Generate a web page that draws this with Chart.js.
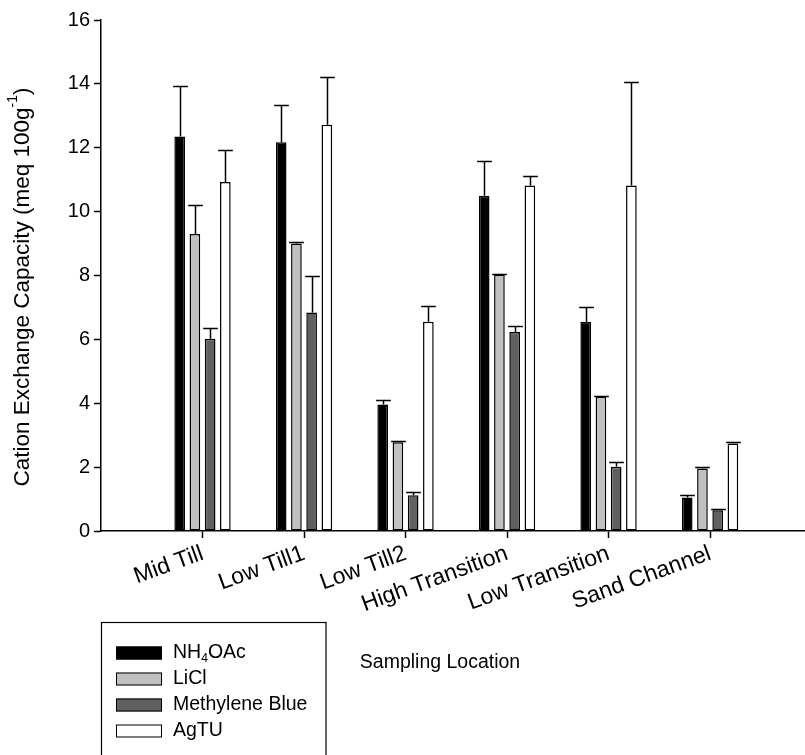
<!DOCTYPE html>
<html>
<head>
<meta charset="utf-8">
<script src="https://cdn.jsdelivr.net/npm/chart.js@4/dist/chart.umd.min.js"></script>
<style>
  html, body { margin: 0; padding: 0; background: #fff; overflow: hidden; }
  #wrap { position: relative; width: 823px; height: 755px; }
</style>
</head>
<body>
<div id="wrap"><canvas id="c" width="823" height="755"></canvas></div>
<script>
// Sampling locations along the transect
const categories = ['Mid Till', 'Low Till1', 'Low Till2', 'High Transition', 'Low Transition', 'Sand Channel'];

// Mean CEC (meq 100g-1) by extraction method, with standard deviation
const nh4oac    = [12.35, 12.17, 3.96, 10.50, 6.55, 1.05];
const nh4oacSd  = [1.58, 1.17, 0.14, 1.07, 0.46, 0.09];
const licl      = [9.30, 9.00, 2.78, 8.03, 4.20, 1.96];
const liclSd    = [0.90, 0.05, 0.03, 0.03, 0.03, 0.03];
const mblue     = [6.02, 6.84, 1.12, 6.23, 2.01, 0.65];
const mblueSd   = [0.33, 1.15, 0.10, 0.18, 0.15, 0.04];
const agtu      = [10.93, 12.72, 6.55, 10.82, 10.82, 2.74];
const agtuSd    = [1.00, 1.50, 0.50, 0.30, 3.25, 0.05];

const yTicks = [0, 2, 4, 6, 8, 10, 12, 14, 16];

const FONT = '"Liberation Sans", Arial, sans-serif';

// one empty slot on each side of the locations
const labels = ['', ...categories, ''];
const pad = arr => [null, ...arr, null];

const series = [
  { label: 'NH4OAc', data: nh4oac, sd: nh4oacSd, fill: '#000000' },
  { label: 'LiCl', data: licl, sd: liclSd, fill: '#c0c0c0' },
  { label: 'Methylene Blue', data: mblue, sd: mblueSd, fill: '#606060' },
  { label: 'AgTU', data: agtu, sd: agtuSd, fill: '#ffffff' }
];

// Draw a run of text with optional sub/superscript pieces
function drawRich(ctx, parts, x, y, size) {
  let cx = x;
  for (const p of parts) {
    const s = p.sub || p.sup ? size * 0.62 : size;
    ctx.font = s + 'px ' + FONT;
    const dy = p.sub ? size * 0.28 : p.sup ? -size * 0.42 : 0;
    ctx.fillText(p.t, cx, y + dy);
    cx += ctx.measureText(p.t).width;
  }
  return cx - x;
}
function measureRich(ctx, parts, size) {
  let w = 0;
  for (const p of parts) {
    const s = p.sub || p.sup ? size * 0.62 : size;
    ctx.font = s + 'px ' + FONT;
    w += ctx.measureText(p.t).width;
  }
  return w;
}
// digits after an element symbol are subscripts (NH4OAc)
function formulaParts(label) {
  const parts = [];
  label.split(/(?<=[A-Z])(\d)/).forEach((t, i) => {
    if (t) parts.push(i % 2 === 1 ? { t, sub: true } : { t });
  });
  return parts;
}

const errorBars = {
  id: 'errorBars',
  afterDatasetsDraw(chart) {
    const { ctx } = chart;
    const y = chart.scales.y;
    ctx.save();
    ctx.strokeStyle = '#000';
    ctx.lineWidth = 1.5;
    series.forEach((s, di) => {
      const meta = chart.getDatasetMeta(di);
      meta.data.forEach((bar, i) => {
        const v = chart.data.datasets[di].data[i];
        if (v === null || v === undefined) return;
        const sd = s.sd[i - 1];
        const yTop = Math.round(y.getPixelForValue(v + sd)) + 0.5;
        const x = Math.round(bar.x) + 0.5;
        const half = bar.width / 2 + 2;
        ctx.beginPath();
        ctx.moveTo(x, bar.y);
        ctx.lineTo(x, yTop);
        ctx.moveTo(x - half, yTop);
        ctx.lineTo(x + half, yTop);
        ctx.stroke();
      });
    });
    ctx.restore();
  }
};

const axisTitles = {
  id: 'axisTitles',
  afterDraw(chart) {
    const { ctx } = chart;
    ctx.save();
    ctx.fillStyle = '#000';
    ctx.textBaseline = 'middle';
    ctx.textAlign = 'left';
    // y title with superscript exponent
    const parts = [
      { t: 'Cation Exchange Capacity (meq 100g' },
      { t: '-1', sup: true },
      { t: ')' }
    ];
    const size = 22.5;
    const w = measureRich(ctx, parts, size);
    ctx.save();
    ctx.translate(23, 287);
    ctx.rotate(-Math.PI / 2);
    drawRich(ctx, parts, -w / 2, 0, size);
    ctx.restore();
    // x title
    ctx.font = '19.5px ' + FONT;
    ctx.textAlign = 'center';
    ctx.fillText('Sampling Location', 440, 663);
    ctx.restore();
  }
};

const boxLegend = {
  id: 'boxLegend',
  afterDraw(chart) {
    const { ctx } = chart;
    ctx.save();
    ctx.strokeStyle = '#000';
    ctx.lineWidth = 1.2;
    ctx.strokeRect(101.5, 622.5, 224.5, 145);
    const size = 19.5;
    series.forEach((s, i) => {
      const cy = 653 + i * 26;
      ctx.fillStyle = s.fill;
      ctx.fillRect(116, cy - 6.5, 46, 13);
      ctx.lineWidth = 1;
      ctx.strokeStyle = '#000';
      ctx.strokeRect(116.5, cy - 6, 45, 12);
      ctx.fillStyle = '#000';
      ctx.textBaseline = 'middle';
      ctx.textAlign = 'left';
      drawRich(ctx, formulaParts(s.label), 173, cy, size);
    });
    ctx.restore();
  }
};

new Chart(document.getElementById('c'), {
  type: 'bar',
  data: {
    labels,
    datasets: series.map(s => ({
      label: s.label,
      data: pad(s.data),
      backgroundColor: s.fill,
      borderColor: '#000',
      borderWidth: 1.5,
      borderSkipped: false,
      barPercentage: 0.7,
      categoryPercentage: 0.6
    }))
  },
  options: {
    responsive: false,
    animation: false,
    devicePixelRatio: 1,
    layout: { padding: { top: 20, right: 0, left: 0, bottom: 0 } },
    plugins: { legend: { display: false }, tooltip: { enabled: false } },
    scales: {
      x: {
        offset: false,
        grid: {
          offset: false,
          drawOnChartArea: false,
          tickLength: 7,
          tickWidth: 1.5,
          tickColor: c => (c.index === 0 || c.index === labels.length - 1) ? 'rgba(0,0,0,0)' : '#000'
        },
        border: { color: '#000', width: 1.5 },
        ticks: {
          autoSkip: false,
          maxRotation: 20,
          minRotation: 20,
          color: '#000',
          padding: 2,
          font: { family: FONT, size: 23 }
        },
        afterFit(scale) { scale.height = 224; }
      },
      y: {
        min: 0,
        max: 16,
        afterBuildTicks(scale) { scale.ticks = yTicks.map(v => ({ value: v })); },
        grid: { drawOnChartArea: false, tickLength: 7, tickWidth: 1.5, tickColor: '#000' },
        border: { color: '#000', width: 1.5 },
        ticks: { color: '#000', padding: 4, font: { family: FONT, size: 20 } },
        afterFit(scale) { scale.width = 101; }
      }
    }
  },
  plugins: [errorBars, axisTitles, boxLegend]
});
</script>
</body>
</html>
